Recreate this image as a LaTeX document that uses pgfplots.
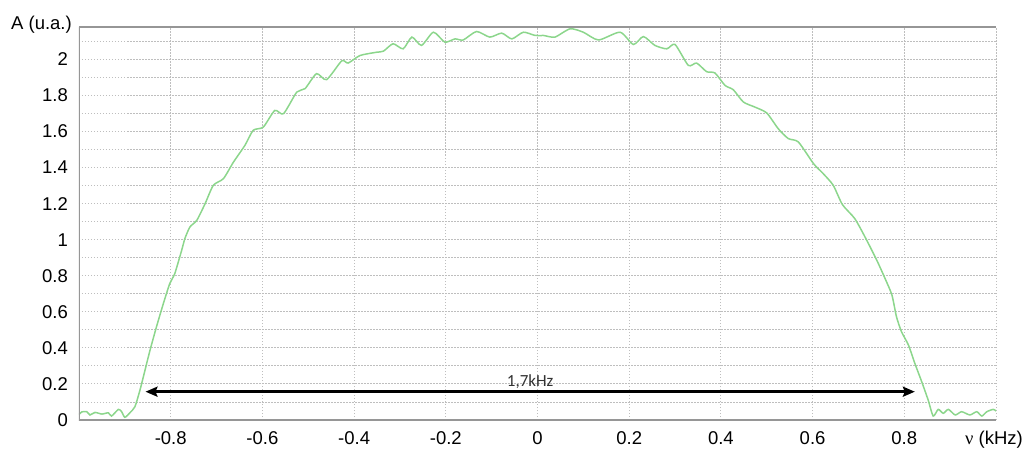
\documentclass[border=0pt]{standalone}
\usepackage{pgfplots}
\pgfplotsset{compat=1.18}
\usepackage{fontspec}
\setmainfont{Liberation Sans}
\newfontfamily\seriffont{Liberation Serif}
\newfontfamily\calib{Carlito}
\usetikzlibrary{arrows.meta}
\definecolor{curvegreen}{RGB}{140,214,140}
\definecolor{gridgray}{RGB}{190,190,190}
\definecolor{framegray}{RGB}{150,150,150}
\begin{document}
\begin{tikzpicture}[font=\fontsize{18.5}{22}\selectfont]
\path[use as bounding box] (-79pt,-28pt) rectangle (946pt,420pt);
\begin{axis}[
  at={(0,0)}, anchor=south west,
  scale only axis, width=917pt, height=393pt,
  xmin=-1, xmax=1, ymin=0, ymax=2.18,
  axis line style={draw=none},
  major tick length=0pt, minor tick length=0pt,
  xtick={-1,-0.8,-0.6,-0.4,-0.2,0,0.2,0.4,0.6,0.8,1},
  xticklabels={,-0.8,-0.6,-0.4,-0.2,0,0.2,0.4,0.6,0.8,},
  ytick={0,0.2,0.4,0.6,0.8,1,1.2,1.4,1.6,1.8,2},
  yticklabels={0,0.2,0.4,0.6,0.8,1,1.2,1.4,1.6,1.8,2},
  minor ytick={0.1,0.3,0.5,0.7,0.9,1.1,1.3,1.5,1.7,1.9,2.1},
  xmajorgrids, ymajorgrids, yminorgrids,
  major grid style={gridgray, line width=0.9pt, dash pattern=on 1.5pt off 1.5pt},
  minor grid style={gridgray, line width=0.9pt, dash pattern=on 1.5pt off 1.5pt},
  xticklabel style={anchor=base, inner sep=0pt, yshift=-24pt},
  yticklabel style={anchor=east, inner sep=0pt, xshift=-11pt},
]
\addplot[curvegreen, line width=1.5pt, smooth, tension=0.4] coordinates {
(-1.0,0.03) (-0.994,0.045) (-0.983,0.046) (-0.976,0.028) (-0.965,0.042)
(-0.950,0.033) (-0.936,0.040) (-0.929,0.022) (-0.914,0.059) (-0.907,0.046)
(-0.900,0.015) (-0.889,0.040) (-0.878,0.074) (-0.867,0.166) (-0.856,0.277)
(-0.845,0.388) (-0.831,0.517) (-0.816,0.646) (-0.802,0.757) (-0.791,0.813)
(-0.776,0.942) (-0.769,1.007) (-0.758,1.071) (-0.743,1.108) (-0.725,1.200)
(-0.707,1.302) (-0.685,1.339) (-0.663,1.431) (-0.638,1.524) (-0.620,1.607)
(-0.598,1.625) (-0.573,1.717) (-0.554,1.699) (-0.525,1.819) (-0.507,1.838)
(-0.482,1.921) (-0.460,1.888) (-0.427,1.992) (-0.413,1.980) (-0.387,2.022)
(-0.351,2.040) (-0.336,2.046) (-0.315,2.087) (-0.293,2.059) (-0.274,2.124)
(-0.253,2.078) (-0.227,2.151) (-0.202,2.096) (-0.180,2.114) (-0.162,2.108)
(-0.133,2.155) (-0.104,2.124) (-0.078,2.146) (-0.056,2.114) (-0.031,2.151)
(-0.005,2.133) (0.013,2.133) (0.038,2.124) (0.071,2.170) (0.100,2.151)
(0.133,2.108) (0.180,2.151) (0.209,2.083) (0.231,2.127) (0.256,2.078)
(0.282,2.059) (0.300,2.083) (0.329,1.967) (0.347,1.980) (0.369,1.932)
(0.387,1.925) (0.409,1.856) (0.427,1.832) (0.449,1.764) (0.474,1.736)
(0.500,1.703) (0.525,1.616) (0.547,1.561) (0.569,1.542) (0.602,1.422)
(0.623,1.367) (0.645,1.302) (0.665,1.195) (0.692,1.117) (0.716,1.007)
(0.740,0.886) (0.758,0.785) (0.773,0.693) (0.783,0.572) (0.794,0.489)
(0.809,0.416) (0.823,0.314) (0.838,0.212) (0.852,0.111) (0.863,0.022)
(0.874,0.059) (0.885,0.037) (0.896,0.059) (0.911,0.028) (0.925,0.046)
(0.943,0.028) (0.958,0.046) (0.969,0.022) (0.980,0.046) (0.994,0.059)
(1.0,0.05)
};
\draw[framegray, line width=1.8pt] (rel axis cs:0,1) -- (rel axis cs:0,0) -- (rel axis cs:1,0);
\draw[framegray, line width=1.8pt] (rel axis cs:0,1) -- (rel axis cs:1,1);
\draw[black, line width=2.6pt, {Stealth[length=12pt,width=10pt,inset=2pt]}-{Stealth[length=12pt,width=10pt,inset=2pt]}]
  (axis cs:-0.855,0.157) -- (axis cs:0.823,0.157);
\node[anchor=base, inner sep=0pt, text=black!80, font=\calib\fontsize{17}{20}\selectfont] at (axis cs:-0.016,0.188) {1,7kHz};
\end{axis}
\node[anchor=base east, inner sep=0pt] at (-7pt,390pt) {A (u.a.)};
\node[anchor=base west, inner sep=0pt] at (886pt,-24pt) {{\seriffont ν} (kHz)};
\end{tikzpicture}
\end{document}
